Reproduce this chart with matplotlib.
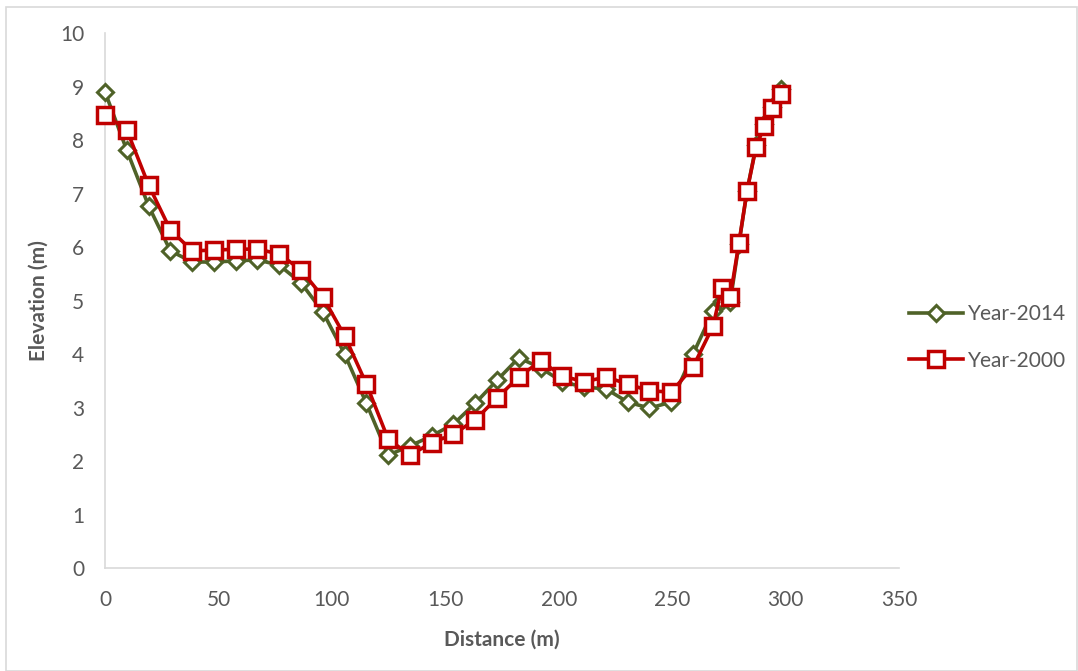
import matplotlib
matplotlib.use('Agg')
from matplotlib import pyplot as plt
from matplotlib.patches import Rectangle

plt.rcParams['font.family'] = ['Lato', 'DejaVu Sans']

# distances (m)
distance = [0, 9.6, 19.2, 28.8, 38.4, 48.0, 57.6, 67.2, 76.8, 86.4,
            96.0, 105.6, 115.2, 124.8, 134.4, 144.0, 153.6, 163.2, 172.8, 182.4,
            192.0, 201.6, 211.2, 220.8, 230.4, 240.0, 249.6, 259.2, 268.0, 271.8,
            275.6, 279.4, 283.0, 287.0, 290.6, 294.2, 298.0]

year_2014 = [8.90, 7.81, 6.77, 5.93, 5.72, 5.72, 5.74, 5.76, 5.66, 5.33,
             4.79, 4.00, 3.08, 2.11, 2.28, 2.47, 2.69, 3.08, 3.51, 3.93,
             3.74, 3.48, 3.38, 3.35, 3.10, 2.99, 3.10, 4.00, 4.80, 5.00,
             4.98, 6.05, 7.05, 7.90, 8.30, 8.62, 8.95]

year_2000 = [8.47, 8.19, 7.16, 6.32, 5.93, 5.94, 5.96, 5.96, 5.87, 5.57,
             5.07, 4.34, 3.44, 2.41, 2.11, 2.34, 2.50, 2.77, 3.18, 3.57,
             3.87, 3.59, 3.48, 3.57, 3.44, 3.31, 3.29, 3.76, 4.52, 5.23,
             5.07, 6.07, 7.05, 7.87, 8.26, 8.60, 8.86]

green = '#4F6228'
red = '#C00000'
grey_text = '#595959'
grey_line = '#D9D9D9'

fig = plt.figure(figsize=(10.78, 6.71), dpi=100)
ax = fig.add_axes([0.0974, 0.1535, 0.7366, 0.7973])

ax.plot(distance, year_2014, color=green, linewidth=2.6, marker='D',
        markersize=8.5, markerfacecolor='white', markeredgecolor=green,
        markeredgewidth=2.2, label='Year-2014', zorder=3, clip_on=False)
ax.plot(distance, year_2000, color=red, linewidth=2.6, marker='s',
        markersize=11, markerfacecolor='white', markeredgecolor=red,
        markeredgewidth=2.5, label='Year-2000', zorder=4, clip_on=False)

ax.set_xlim(0, 350)
ax.set_ylim(0, 10)
ax.set_xticks(range(0, 351, 50))
ax.set_yticks(range(0, 11, 1))
ax.tick_params(length=0, labelsize=15, labelcolor=grey_text)
ax.tick_params(axis='x', pad=16)
ax.tick_params(axis='y', pad=15)

for side in ['top', 'right']:
    ax.spines[side].set_visible(False)
for side in ['left', 'bottom']:
    ax.spines[side].set_color(grey_line)
    ax.spines[side].set_linewidth(1.2)

ax.set_xlabel('Distance (m)', fontsize=15, fontweight='bold', color=grey_text, labelpad=14)
ax.set_ylabel('Elevation (m)', fontsize=15, fontweight='bold', color=grey_text, labelpad=8)

leg = fig.legend(loc='center left', bbox_to_anchor=(0.826, 0.497), frameon=False,
                 fontsize=15, handlelength=2.6, handletextpad=0.2, labelspacing=1.25,
                 labelcolor=grey_text)

# chart area border
fig.patches.append(Rectangle((0.006, 0.0), 0.993, 0.989, transform=fig.transFigure,
                             fill=False, edgecolor=grey_line, linewidth=1.2))

fig.savefig('out.png', dpi=100)
